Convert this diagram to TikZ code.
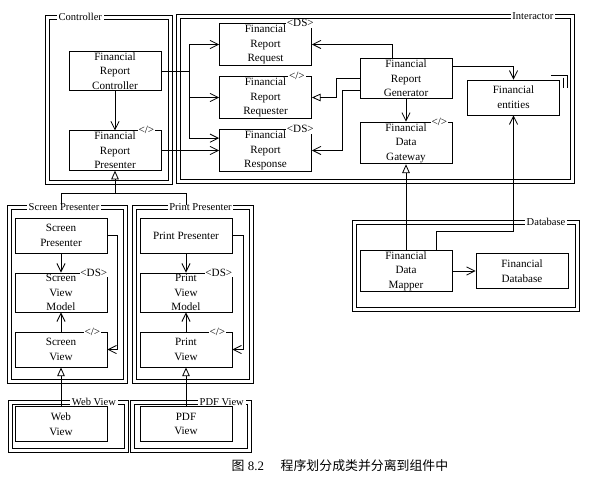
\documentclass[tikz,border=0pt]{standalone}
\usepackage{fontspec}
\setmainfont{Liberation Serif}
\newfontfamily\cjk{Noto Sans CJK SC}
\usetikzlibrary{arrows.meta,positioning}
\tikzstyle{classbox} = [draw, line width=0.7pt, align=center, minimum width=2.76cm, minimum height=1.05cm, inner sep=1pt, font=\fontsize{9.5}{12.5}\selectfont]
\tikzstyle{package} = [draw, line width=0.6pt, inner sep=0pt]
\tikzstyle{pkglabel} = [fill=white, inner sep=1.5pt, font=\fontsize{9}{11}\selectfont]
\tikzstyle{stereotype} = [fill=white, inner sep=0.8pt, anchor=east, font=\fontsize{9.5}{10}\selectfont]
\tikzstyle{arrow} = [draw, line width=0.7pt, -{Straight Barb[length=7pt,width=7pt]}]
\tikzstyle{realize} = [draw, line width=0.7pt, -{Triangle[open,length=7.5pt,width=6.5pt]}]
\tikzstyle{line} = [draw, line width=0.7pt]
\newcommand{\classbox}[2]{node (#1) [classbox] {#2}}
\newcommand{\pkgframe}[3]{node (#1) [package, minimum width=#2, minimum height=#3] {} node [package, minimum width=#2-0.24cm, minimum height=#3-0.24cm] at (#1) {}}
\newcommand{\stereo}[3]{node [stereotype] at ([xshift=#2]#1.north east) {#3}}
\begin{document}
\begin{tikzpicture}[x=0.03cm,y=-0.03cm]
\useasboundingbox (0,0) rectangle (591,483);
% packages
\path (108.5,99.5) \pkgframe{ctrlpkg}{3.81cm}{5.07cm};
\path (375.25,99) \pkgframe{intpkg}{11.925cm}{5.07cm};
\path (67,294) \pkgframe{scrpkg}{3.6cm}{5.34cm};
\path (192.5,294) \pkgframe{prtpkg}{3.63cm}{5.34cm};
\path (68.5,426) \pkgframe{webpkg}{3.6cm}{1.56cm};
\path (190.75,426) \pkgframe{pdfpkg}{3.645cm}{1.56cm};
\path (465.5,265.5) \pkgframe{dbpkg}{6.81cm}{2.73cm};
\path (ctrlpkg.north west)+(12,2) node [pkglabel, anchor=west] {Controller};
\path (intpkg.north east)+(-19,2) node [pkglabel, anchor=east] {Interactor};
\path (scrpkg.north)+(-3,2) node [pkglabel] {Screen Presenter};
\path (prtpkg.north)+(8,2) node [pkglabel] {Print Presenter};
\path (webpkg.north east)+(-11,2) node [pkglabel, anchor=east] {Web View};
\path (pdfpkg.north east)+(-6,2) node [pkglabel, anchor=east] {PDF View};
\path (dbpkg.north east)+(-12,2) node [pkglabel, anchor=east] {Database};

% classes
\path (115,71) \classbox{ctrl}{Financial\\Report\\Controller};
\path (ctrl)+(0,79.5) \classbox{pres}{Financial\\Report\\Presenter};
\path (265.5,44.5) \classbox{req}{Financial\\Report\\Request};
\path (req)+(0,53) \classbox{reqr}{Financial\\Report\\Requester};
\path (reqr)+(0,53) \classbox{resp}{Financial\\Report\\Response};
\path (406,78.5) \classbox{gen}{Financial\\Report\\Generator};
\path (gen)+(0,64.5) \classbox{gw}{Financial\\Data\\Gateway};
\path (513.5,97.5) \classbox{ent}{Financial\\entities};
\path (406,271) \classbox{mapper}{Financial\\Data\\Mapper};
\path (mapper)+(116,0) \classbox{fdb}{Financial\\Database};
\path (61,235.5) \classbox{scrp}{Screen\\Presenter};
\path (scrp)+(0,57) \classbox{svm}{Screen\\View\\Model};
\path (svm)+(0,57) \classbox{sv}{Screen\\View};
\path (186,235.5) \classbox{prp}{Print Presenter};
\path (prp)+(0,57) \classbox{pvm}{Print\\View\\Model};
\path (pvm)+(0,57) \classbox{pv}{Print\\View};
\path (61,424) \classbox{web}{Web\\View};
\path (186,424) \classbox{pdf}{PDF\\View};

\path \stereo{pres}{-0.18cm}{</>};
\path \stereo{req}{0.09cm}{<DS>};
\path \stereo{reqr}{-0.18cm}{</>};
\path \stereo{resp}{0.09cm}{<DS>};
\path \stereo{gw}{-0.12cm}{</>};
\path \stereo{svm}{0.03cm}{<DS>};
\path \stereo{sv}{-0.18cm}{</>};
\path \stereo{pvm}{0.03cm}{<DS>};
\path \stereo{pv}{-0.18cm}{</>};
\draw [line width=0.6pt] ([shift={(-9,-4)}]ent.north east) -| ([shift={(7,8)}]ent.north east);
\draw [line width=0.6pt] ([shift={(3,-2)}]ent.north east) -- ([shift={(3,8)}]ent.north east);

% controller and interactor
\path [arrow] (ctrl) -- (pres);
\path [arrow] (ctrl.east) -- ++(28,0) |- (req.west);
\path [arrow] (ctrl.east) -- ++(28,0) |- (reqr.west);
\path [arrow] (ctrl.east) -- ++(28,0) |- ([yshift=0.37cm]resp.west);
\path [arrow] (pres.east) -- (resp.west);
\path [arrow] ([xshift=-0.42cm]gen.north) |- (req.east);
\path [realize] (gen.west) -- ++(-23,0) |- (reqr.east);
\path [arrow] ([yshift=-0.37cm]gen.west) -- ++(-17,0) |- (resp.east);
\path [arrow] (gen) -- (gw);
\path [arrow] ([yshift=0.37cm]gen.east) -| (ent.north);
\path [realize] (mapper) -- (gw);
\path [arrow] ([xshift=0.9cm]mapper.north) -- ++(0,-18) -| (ent.south);
\path [arrow] (mapper) -- (fdb);

% presenters and views
\coordinate (split) at ([yshift=-0.69cm]pres.south);
\path [line] (scrp |- scrpkg.north) |- (split);
\path [line] (prp |- prtpkg.north) |- (split);
\path [realize] (split) -- (pres.south);
\path [arrow] (scrp) -- (svm);
\path [arrow] (sv) -- (svm);
\path [arrow] (scrp.east) -- ++(10,0) |- (sv.east);
\path [arrow] (prp) -- (pvm);
\path [arrow] (pv) -- (pvm);
\path [arrow] (prp.east) -- ++(11,0) |- (pv.east);
\path [realize] (web) -- (sv);
\path [realize] (pdf) -- (pv);

\path (340,466) node (caption) [font=\fontsize{11}{13}\selectfont] {{\cjk 图} 8.2\hspace{1.3em}{\cjk 程序划分成类并分离到组件中}};
\end{tikzpicture}
\end{document}
